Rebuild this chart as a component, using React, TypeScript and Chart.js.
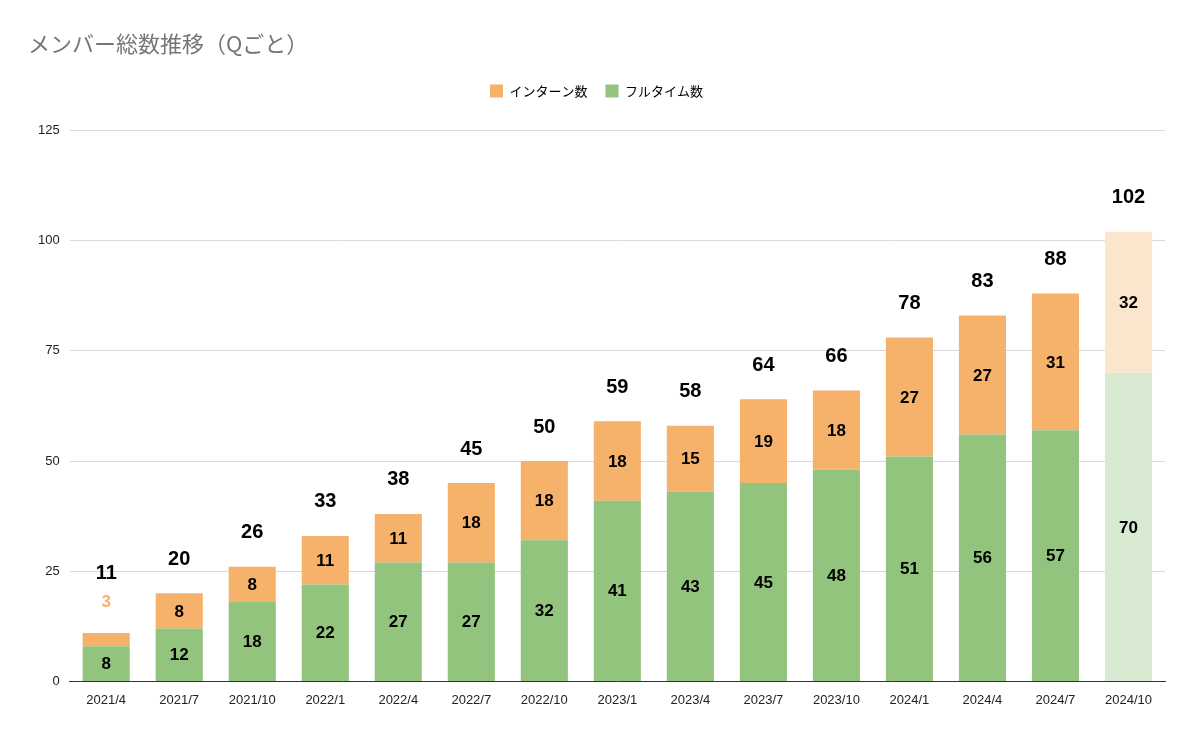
import React, { useEffect, useRef } from "react";
import { Chart, registerables } from "chart.js";
Chart.register(...registerables);

const categories = ["2021/4","2021/7","2021/10","2022/1","2022/4","2022/7","2022/10","2023/1","2023/4","2023/7","2023/10","2024/1","2024/4","2024/7","2024/10"];
const fulltime = [8,12,18,22,27,27,32,41,43,45,48,51,56,57,70];
const interns = [3,8,8,11,11,18,18,18,15,19,18,27,27,31,32];
const yTicksMax = 125;
const yStep = 25;

const ORANGE = "#F6B26B", GREEN = "#93C47D", ORANGE_L = "#FCE5CD", GREEN_L = "#D9EAD3";
const NUMFONT = "'Liberation Sans', Arial, sans-serif";
const JPFONT = "'Noto Sans CJK JP', 'Noto Sans', sans-serif";

const labelPlugin = {
  id: "labels",
  afterDatasetsDraw(chart: any) {
    const ctx = chart.ctx;
    const m0 = chart.getDatasetMeta(0);
    const m1 = chart.getDatasetMeta(1);
    ctx.save();
    ctx.textAlign = "center";
    ctx.textBaseline = "middle";
    categories.forEach((_, i) => {
      const b0 = m0.data[i], b1 = m1.data[i];
      ctx.font = `bold 17px ${NUMFONT}`;
      ctx.fillStyle = "#000";
      ctx.fillText(String(fulltime[i]), b0.x, (b0.y + b0.base) / 2 + 1);
      const h1 = Math.abs(b1.base - b1.y);
      let totalY = b1.y - 34;
      if (h1 < 22) {
        ctx.fillStyle = ORANGE;
        ctx.fillText(String(interns[i]), b1.x, b1.y - 31);
        totalY = b1.y - 59;
      } else {
        ctx.fillStyle = "#000";
        ctx.fillText(String(interns[i]), b1.x, (b1.y + b1.base) / 2 + 1);
      }
      ctx.fillStyle = "#000";
      ctx.font = `bold 20px ${NUMFONT}`;
      ctx.fillText(String(fulltime[i] + interns[i]), b1.x, totalY);
    });
    ctx.restore();
  },
};

const legendGap = {
  id: "legendGap",
  beforeInit(chart: any) {
    const lg = chart.legend;
    if (!lg) return;
    const f = lg.fit;
    lg.fit = function () { f.call(this); this.height += 23; };
  },
};

export default function App() {
  const ref = useRef<HTMLCanvasElement>(null);
  useEffect(() => {
    document.body.style.margin = "0";
    const last = categories.length - 1;
    const chart = new Chart(ref.current!, {
      type: "bar",
      data: {
        labels: categories,
        datasets: [
          { label: "フルタイム数", data: fulltime, backgroundColor: (c: any) => (c.dataIndex === last ? GREEN_L : GREEN) },
          { label: "インターン数", data: interns, backgroundColor: (c: any) => (c.dataIndex === last ? ORANGE_L : ORANGE) },
        ],
      },
      options: {
        animation: false,
        responsive: false,
        layout: { padding: { left: 28, right: 35, top: 8, bottom: 28 } },
        datasets: { bar: { categoryPercentage: 0.645, barPercentage: 1 } },
        plugins: {
          title: { display: true, text: "メンバー総数推移（Qごと）", align: "start", color: "#757575", font: { family: JPFONT, size: 22, weight: "normal" }, padding: { top: 22, bottom: 10 } },
          legend: {
            labels: { boxWidth: 13, boxHeight: 13, color: "#333", font: { family: JPFONT, size: 13 }, padding: 18,
              generateLabels: () => [
                { text: "インターン数", fillStyle: ORANGE, strokeStyle: ORANGE, lineWidth: 0, datasetIndex: 1 },
                { text: "フルタイム数", fillStyle: GREEN, strokeStyle: GREEN, lineWidth: 0, datasetIndex: 0 },
              ] as any },
          },
          tooltip: { enabled: false },
        },
        scales: {
          x: { stacked: true, grid: { display: false }, border: { color: "#333" }, ticks: { color: "#222", font: { family: NUMFONT, size: 13 }, maxRotation: 0 } },
          y: { stacked: true, min: 0, max: yTicksMax, ticks: { stepSize: yStep, color: "#222", font: { family: NUMFONT, size: 13 }, padding: 10 }, grid: { color: "#D9D9D9", drawTicks: false }, border: { display: false } },
        },
      } as any,
      plugins: [labelPlugin, legendGap],
    });
    return () => chart.destroy();
  }, []);
  return <canvas ref={ref} width={1200} height={739} style={{ display: "block" }} />;
}
